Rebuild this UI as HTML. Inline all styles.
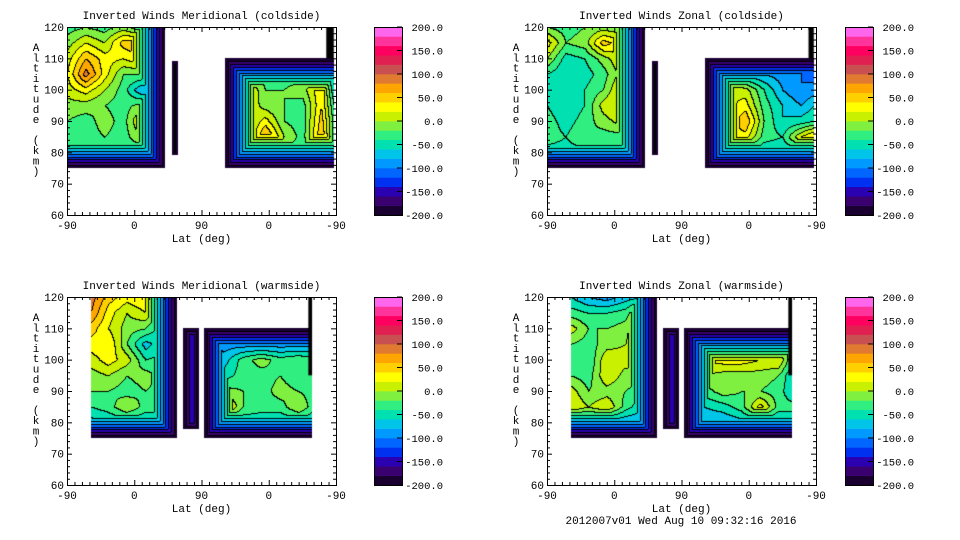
<!DOCTYPE html>
<html><head><meta charset="utf-8">
<style>
body{margin:0;background:#fff;width:960px;height:540px;overflow:hidden;position:relative;font-family:"Liberation Mono",monospace;}
canvas{position:absolute;}
svg{position:absolute;left:0;top:0;}
</style></head>
<body>
<div id="root"></div>
<svg id="ov" width="960" height="540"></svg>
<script>
// ---- data ----
const ALTS_A=[120,115,110,105,100,95,90,85,80];
const ALTS_C=[105,100,95,90,85,80];
const COLS_TA=[0,25,50,75,100,125];
const COLS_TC=[215,240,265,290,315,340,357];
const COLS_BA=[32,55,80,105,130,147];
const COLS_BC=[188,210,235,260,285,310,328];

const tlA=[[-30,-20,-30,-10,-40,-60],[-10,20,0,50,60,-40],[10,60,30,20,40,-30],[20,90,30,-20,-20,-60],[10,30,0,-30,-80,-50],[-10,-10,-20,-30,-10,-40],[-20,-30,-10,-30,30,-30],[-20,-30,-20,-30,0,-20],[-40,-40,-40,-40,-40,-40]];
const tlC=[[-40,-30,-30,-30,-30,-30,-60],[10,30,-20,-20,-10,40,-60],[-10,20,-10,-20,-30,40,-40],[-30,-10,30,-20,-30,50,-30],[20,-20,70,0,-30,60,-30],[-30,-30,-30,-30,-30,-30,-30]];
const trA=[[-20,-30,-20,-10,-20,-20],[30,-20,-10,50,30,0],[0,-50,-40,-10,20,20],[-40,-60,-50,-30,10,40],[-50,-60,-40,-20,30,60],[-40,-60,-40,10,30,40],[-30,-50,-30,-10,10,30],[-30,-40,-20,-30,-30,-30],[-50,-50,-50,-50,-50,-50]];
const trC=[[-60,-70,-70,-80,-90,-100,-110],[-30,20,10,-40,-80,-100,-90],[-40,10,30,-30,-60,-80,-60],[-50,20,60,-20,-60,-50,-40],[-40,30,30,-30,-40,20,50],[-60,-60,-60,-60,-60,-60,-40]];
const blA=[[90,50,30,40,-40,-60],[80,30,0,20,-50,-60],[50,20,-10,-20,-60,-60],[30,40,-20,-70,-40,-60],[10,30,10,-40,-30,-50],[-10,0,-20,-10,-30,-40],[-20,-20,-30,-20,-30,-40],[-40,-30,0,-30,-30,-50],[-70,-60,-60,-60,-60,-60]];
const blC=[[-90,-90,-90,-90,-90,-90,-90],[-40,-70,-30,-10,-30,-20,-30],[-20,-50,-30,-30,-20,-40,-30],[0,-10,-20,-30,-10,-20,-30],[30,40,-20,-30,-30,0,-30],[-60,-60,-60,-60,-60,-60,-60]];
const brA=[[-60,-80,-90,-70,-60,-100],[-30,-40,-40,-30,20,-80],[10,-20,-20,-10,60,-40],[-20,-30,-10,0,50,0],[-20,-40,20,10,20,-30],[-20,-30,20,-10,-20,-50],[10,-20,-10,-20,-30,-50],[20,0,20,-30,-60,-70],[-80,-80,-80,-80,-80,-80]];
const brC=[[-30,-10,-10,-10,-10,-10,-40],[10,20,30,30,20,20,-40],[-20,0,-10,-10,-10,-20,-60],[-40,-30,-10,-20,-20,-30,-60],[-30,-60,-50,-30,30,-30,-30],[-70,-80,-80,-70,-60,-70,-70]];
const pillTop=[[-80]], pillBL=[[-60]], pillBR=[[-110]];

const COLORBAR_TICKS=[200,150,100,50,0,-50,-100,-150,-200];
const X_TICKS=[-90,0,90,0,-90];
const Y_TICKS=[60,70,80,90,100,110,120];
const PAL=['#1a0030','#3a0070','#2a00b0','#0030f0','#0066ff','#0099ff','#00c4e8','#00e0b0','#30ee80','#80f040','#c8f000','#ffff00','#ffd000','#ffa500','#e07a30','#c85050','#e02050','#ff0060','#ff3399','#ff66ee'];

const PANELS=[
 {name:'meridional-coldside',title:'Inverted Winds Meridional (coldside)',ox:0,oy:0,
  blocks:[{u0:0,u1:131,a0:75,a1:120,cols:COLS_TA,rows:ALTS_A,v:tlA,e:'rb'},
          {u0:140,u1:149,a0:79,a1:109,cols:[0],rows:[0],v:pillTop,e:'lrbt'},
          {u0:211,u1:357,a0:75,a1:110,cols:COLS_TC,rows:ALTS_C,v:tlC,e:'ltb'}],
  bars:[[347,357,110,120]]},
 {name:'zonal-coldside',title:'Inverted Winds Zonal (coldside)',ox:480,oy:0,
  blocks:[{u0:0,u1:131,a0:75,a1:120,cols:COLS_TA,rows:ALTS_A,v:trA,e:'rb'},
          {u0:140,u1:149,a0:79,a1:109,cols:[0],rows:[0],v:pillTop,e:'lrbt'},
          {u0:211,u1:357,a0:75,a1:110,cols:COLS_TC,rows:ALTS_C,v:trC,e:'ltb'}],
  bars:[[350,357,110,120]]},
 {name:'meridional-warmside',title:'Inverted Winds Meridional (warmside)',ox:0,oy:270,
  blocks:[{u0:32,u1:147,a0:75,a1:120,cols:COLS_BA,rows:ALTS_A,v:blA,e:'rb'},
          {u0:155,u1:177,a0:78,a1:110,cols:[0],rows:[0],v:pillBL,e:'lrbt'},
          {u0:183,u1:328,a0:75,a1:110,cols:COLS_BC,rows:ALTS_C,v:blC,e:'ltb'}],
  bars:[[323,328,95,120]]},
 {name:'zonal-warmside',title:'Inverted Winds Zonal (warmside)',ox:480,oy:270,
  blocks:[{u0:32,u1:147,a0:75,a1:120,cols:COLS_BA,rows:ALTS_A,v:brA,e:'rb'},
          {u0:155,u1:177,a0:78,a1:110,cols:[0],rows:[0],v:pillBR,e:'lrbt'},
          {u0:183,u1:328,a0:75,a1:110,cols:COLS_BC,rows:ALTS_C,v:brC,e:'ltb'}],
  bars:[[323,328,95,120]]}
];

// ---- rendering ----
const W=269,H=188,PX=67,PY=27,RATE=7;
const xs=u=>u*W/360, ys=a=>(120-a)*H/60;
function idx(arr,x,desc){
  const n=arr.length; if(n===1) return [0,0,0];
  for(let i=0;i<n-1;i++){
    const a=arr[i],b=arr[i+1];
    const inr=desc?(x<=a&&x>=b):(x>=a&&x<=b);
    if(inr) return [i,i+1,(x-a)/(b-a)];
  }
  const first=desc?x>arr[0]:x<arr[0];
  return first?[0,0,0]:[n-1,n-1,0];
}
function val(b,u,a){
  const [c0,c1,fx]=idx(b.cols,u,false), [r0,r1,fy]=idx(b.rows,a,true);
  const v00=b.v[r0][c0],v01=b.v[r0][c1],v10=b.v[r1][c0],v11=b.v[r1][c1];
  let v=(v00*(1-fx)+v01*fx)*(1-fy)+(v10*(1-fx)+v11*fx)*fy;
  let d=1e9;
  if(b.e.includes('l')) d=Math.min(d,xs(u-b.u0));
  if(b.e.includes('r')) d=Math.min(d,xs(b.u1-u));
  if(b.e.includes('b')) d=Math.min(d,(a-b.a0)*H/60);
  if(b.e.includes('t')) d=Math.min(d,(b.a1-a)*H/60);
  return Math.min(v,-200+RATE*d);
}
function hex(c){return [parseInt(c.slice(1,3),16),parseInt(c.slice(3,5),16),parseInt(c.slice(5,7),16)];}
const PALRGB=PAL.map(hex);
const root=document.getElementById('root');
const ov=document.getElementById('ov');
const NS='http://www.w3.org/2000/svg';
const FF='Liberation Mono, monospace';
function el(tag,attrs,parent){const e=document.createElementNS(NS,tag);for(const k in attrs)e.setAttribute(k,attrs[k]);(parent||ov).appendChild(e);return e;}

PANELS.forEach(P=>{
  const cv=document.createElement('canvas');
  cv.width=W;cv.height=H;cv.style.left=(P.ox+PX)+'px';cv.style.top=(P.oy+PY)+'px';
  
  
  root.appendChild(cv);
  const ctx=cv.getContext('2d');const img=ctx.createImageData(W,H);
  const band=new Int16Array(W*H).fill(-1), blk=new Int16Array(W*H).fill(-1);
  for(let py=0;py<H;py++)for(let px=0;px<W;px++){
    const u=(px+0.5)*360/W,a=120-(py+0.5)*60/H;
    for(let bi=0;bi<P.blocks.length;bi++){const b=P.blocks[bi];
      if(u>=b.u0&&u<=b.u1&&a>=b.a0&&a<=b.a1){
        const v=val(b,u,a);band[py*W+px]=Math.max(0,Math.min(19,Math.floor((v+200)/20)));blk[py*W+px]=bi;break;}}
  }
  for(let i=0;i<W*H;i++){
    let r=255,g=255,bb=255;
    if(band[i]>=0){
      [r,g,bb]=PALRGB[band[i]];
      const px=i%W;
      const l=px>0?i-1:-1,t=i>=W?i-W:-1;
      if((l>=0&&blk[l]===blk[i]&&band[l]!==band[i])||(t>=0&&blk[t]===blk[i]&&band[t]!==band[i])){r=g=bb=0;}
    }
    img.data[i*4]=r;img.data[i*4+1]=g;img.data[i*4+2]=bb;img.data[i*4+3]=255;
  }
  ctx.putImageData(img,0,0);
  ctx.fillStyle='#000';
  P.bars.forEach(br=>{ctx.fillRect(xs(br[0]),ys(br[3]),xs(br[1])-xs(br[0]),ys(br[2])-ys(br[3]));});

  const x0=P.ox+PX,y0=P.oy+PY;
  const g=el('g',{});
  
  
  const t=el('text',{x:x0+W/2,y:P.oy+19,'text-anchor':'middle','font-size':'11','font-family':FF},g);
  t.textContent=P.title;
  
  
  el('rect',{x:x0+0.5,y:y0+0.5,width:W,height:H,fill:'none',stroke:'#000','stroke-width':1},g);
  for(let u=0;u<=360;u+=10){const X=x0+0.5+xs(u),L=(u%90===0)?5:3;
    el('line',{x1:X,y1:y0+H,x2:X,y2:y0+H-L,stroke:'#000'},g);el('line',{x1:X,y1:y0,x2:X,y2:y0+L,stroke:'#000'},g);}
  X_TICKS.forEach((lab,i)=>{const tx=el('text',{x:x0+xs(i*90),y:y0+H+14,'text-anchor':'middle','font-size':'11','font-family':FF},g);tx.textContent=lab;
    
    });
  for(let a=60;a<=120;a+=2){const Y=y0+0.5+ys(a),L=(a%10===0)?5:3;
    el('line',{x1:x0,y1:Y,x2:x0+L,y2:Y,stroke:'#000'},g);el('line',{x1:x0+W,y1:Y,x2:x0+W-L,y2:Y,stroke:'#000'},g);}
  Y_TICKS.forEach(a=>{const ty=el('text',{x:x0-3,y:y0+ys(a)+4,'text-anchor':'end','font-size':'11','font-family':FF},g);ty.textContent=a;
    
    });
  const xl=el('text',{x:x0+W/2,y:y0+H+27,'text-anchor':'middle','font-size':'11','font-family':FF},g);xl.textContent='Lat (deg)';
  
  
  const yt=el('text',{x:P.ox+36,y:y0+20,'text-anchor':'middle','font-size':'11','font-family':FF},g);
  
  
  'Altitude (km)'.split('').forEach((ch,i)=>{const s=el('tspan',{x:P.ox+36,y:y0+24+i*10.3},yt);s.textContent=ch;});
  // colorbar
  const cx=P.ox+(P.ox?365:374),cw=28;
  const cb=el('g',{});
  
  
  const bh=H/PAL.length;
  PAL.forEach((c,i)=>{el('rect',{x:cx,y:y0+H-(i+1)*bh,width:cw,height:bh+0.3,fill:c},cb);});
  el('rect',{x:cx+0.5,y:y0+0.5,width:cw,height:H,fill:'none',stroke:'#000'},cb);
  COLORBAR_TICKS.forEach(v=>{const Y=y0+(200-v)/400*H;
    el('line',{x1:cx+cw-5,y1:Y,x2:cx+cw,y2:Y,stroke:'#000'},cb);
    const tl=el('text',{x:cx+69,y:Y+4,'text-anchor':'end','font-size':'10.5','font-family':FF},cb);
    tl.textContent=v.toFixed(1);
    
    });
});
const ft=el('text',{x:681,y:524,'text-anchor':'middle','font-size':'11','font-family':FF});
ft.textContent='2012007v01 Wed Aug 10 09:32:16 2016';


</script>
</body></html>
